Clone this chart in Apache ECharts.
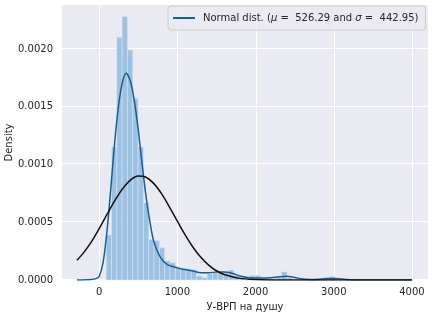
<!DOCTYPE html>
<html>
<head>
<meta charset="utf-8">
<script src="https://cdn.jsdelivr.net/npm/echarts@6/dist/echarts.min.js"></script>
<style>html,body{margin:0;padding:0;background:#fff}#c{width:434px;height:317px}</style>
</head>
<body>
<div id="c"></div>
<script>
// Histogram bin edges (data units) and densities
const binEdges = [90,158,226,294,362,430,498,566,634,702,770,838,906,974,1042,1110,1178,1246,1314,1382,1450,1518,1586,1654,1722,1790,1858,1926,1994,2062,2130,2198,2266,2334,2402,2470,2538,2606,2674,2742,2810,2878,2946,3014];
const binDensity = [0.00039,0.00115,0.00210,0.00228,0.00199,0.00157,0.00115,0.00067,0.00035,0.00034,0.00028,0.000165,0.00015,0.00011,0.00010,0.000095,0.00009,0.000035,0.00002,0.000055,0.00006,0.00006,0.00006,0.000087,0.00004,0.00002,0,0.00004,0.00004,0.00002,0.00001,0.00001,0.00002,0.00007,0.00002,0,0,0,0,0,0,0.00001,0.00003];

// KDE curve
const kdeX = [-285,-200,-100,-40,0,50,100,150,200,250,300,345,400,450,500,550,600,650,700,780,870,1000,1100,1200,1300,1400,1500,1600,1700,1800,1900,2000,2100,2200,2300,2400,2500,2600,2700,2800,2900,3000,3100,3200,3400,3700,4000];
const kdeY = [0,0.000001,0.000004,0.000012,0.00003,0.00015,0.00042,0.00080,0.00120,0.00152,0.00172,0.00179,0.00172,0.00155,0.00130,0.00100,0.00072,0.00050,0.00033,0.00020,0.000135,0.000105,0.00009,0.000078,0.000062,0.000062,0.00007,0.00007,0.000058,0.000035,0.000022,0.000018,0.000017,0.00002,0.000028,0.000033,0.000022,0.000008,0.000004,0.000006,0.000012,0.000014,0.000008,0.000002,0,0,0];

// Normal fit curve
const normX = [-285,-200,-100,0,100,200,300,400,500,600,700,800,900,1000,1100,1200,1300,1400,1500,1600,1800,2000,2200,2500,3000,3500,4000];
const normY = [0.00017,0.000235,0.00033,0.000445,0.000567,0.000687,0.00079,0.000865,0.0009,0.000889,0.000834,0.000745,0.000631,0.000509,0.00039,0.000283,0.000196,0.000129,0.00008,0.000048,0.000014,0.0000035,0.0000006,0,0,0,0];

const xTicks = [0,1000,2000,3000,4000];
const yTicks = [0,0.0005,0.0010,0.0015,0.0020];

const histData = binDensity.map((d,i)=>[binEdges[i], binEdges[i+1], d]);
const kdeData = kdeX.map((x,i)=>[x,kdeY[i]]);
const normData = normX.map((x,i)=>[x,normY[i]]);

const FONT = 'DejaVu Sans';
const TXT = '#262626';

const chart = echarts.init(document.getElementById('c'), null, {renderer:'canvas'});

chart.setOption({
  animation:false,
  backgroundColor:'#ffffff',
  textStyle:{fontFamily:FONT},
  grid:{left:62,right:6,top:5,bottom:37,show:true,backgroundColor:'#EAEAF2',borderWidth:0,
    containLabel:false,outerBoundsMode:'none'},
  xAxis:{type:'value',min:-475,max:4205,
    axisLine:{show:false},axisTick:{show:false},splitLine:{show:false},
    axisLabel:{customValues:xTicks,color:TXT,fontSize:10,fontFamily:FONT,margin:7,formatter:v=>String(v)},
    name:'У-ВРП на душу',nameLocation:'middle',nameGap:22,nameMoveOverlap:false,
    nameTextStyle:{color:TXT,fontSize:10,fontFamily:FONT}},
  yAxis:{type:'value',min:0,max:0.00238,
    axisLine:{show:false},axisTick:{show:false},splitLine:{show:false},
    axisLabel:{customValues:yTicks,color:TXT,fontSize:10,fontFamily:FONT,margin:9,formatter:v=>v.toFixed(4)},
    name:'Density',nameLocation:'middle',nameGap:48,nameMoveOverlap:false,
    nameTextStyle:{color:TXT,fontSize:10,fontFamily:FONT}},
  legend:{
    data:[{name:'kde'}],
    left:168,top:6,
    orient:'horizontal',
    icon:'rect',itemWidth:22,itemHeight:2,
    padding:[7,7,7,5],
    backgroundColor:'rgba(234,234,242,0.8)',borderColor:'#cccccc',borderWidth:1,borderRadius:3,
    formatter:()=>'{n|Normal dist. (}{i|μ}{n| =  526.29 and }{i|σ}{n| =  442.95)}',
    textStyle:{color:TXT,fontSize:10,fontFamily:FONT,padding:[0,0,0,3],
      rich:{n:{color:TXT,fontSize:10,fontFamily:FONT},i:{color:TXT,fontSize:10,fontFamily:FONT,fontStyle:'italic'}}}
  },
  series:[
    {type:'custom',name:'gridx',z:0,silent:true,data:xTicks.map(v=>[v]),encode:{x:0},
      renderItem:(params,api)=>{
        const cs = params.coordSys; const p = api.coord([api.value(0),0]);
        const x = Math.round(p[0])+0.5;
        return {type:'line',shape:{x1:x,y1:cs.y,x2:x,y2:cs.y+cs.height},style:{stroke:'#ffffff',lineWidth:1}};
      }},
    {type:'custom',name:'gridy',z:0,silent:true,data:yTicks.map(v=>[v]),encode:{y:0},
      renderItem:(params,api)=>{
        const cs = params.coordSys; const p = api.coord([0,api.value(0)]);
        const y = Math.round(p[1])-0.5;
        return {type:'line',shape:{x1:cs.x,y1:y,x2:cs.x+cs.width,y2:y},style:{stroke:'#ffffff',lineWidth:1}};
      }},
    {type:'custom',name:'hist',z:2,data:histData,encode:{x:[0,1],y:2},
      renderItem:(params,api)=>{
        const p0 = api.coord([api.value(0), api.value(2)]);
        const p1 = api.coord([api.value(1), 0]);
        return {type:'rect',shape:{x:p0[0],y:p0[1],width:p1[0]-p0[0],height:p1[1]-p0[1]},
          style:{fill:'#9dc1e2',stroke:'rgba(214,230,245,0.9)',lineWidth:0.6}};
      }},
    {type:'line',name:'kde',z:3,data:kdeData,showSymbol:false,symbol:'none',smooth:0.3,
      lineStyle:{color:'#1b5c91',width:1.5},itemStyle:{color:'#1b5c91'}},
    {type:'line',name:'norm',z:4,data:normData,showSymbol:false,symbol:'none',smooth:0.3,
      lineStyle:{color:'#111111',width:1.5}}
  ]
});
</script>
</body>
</html>
